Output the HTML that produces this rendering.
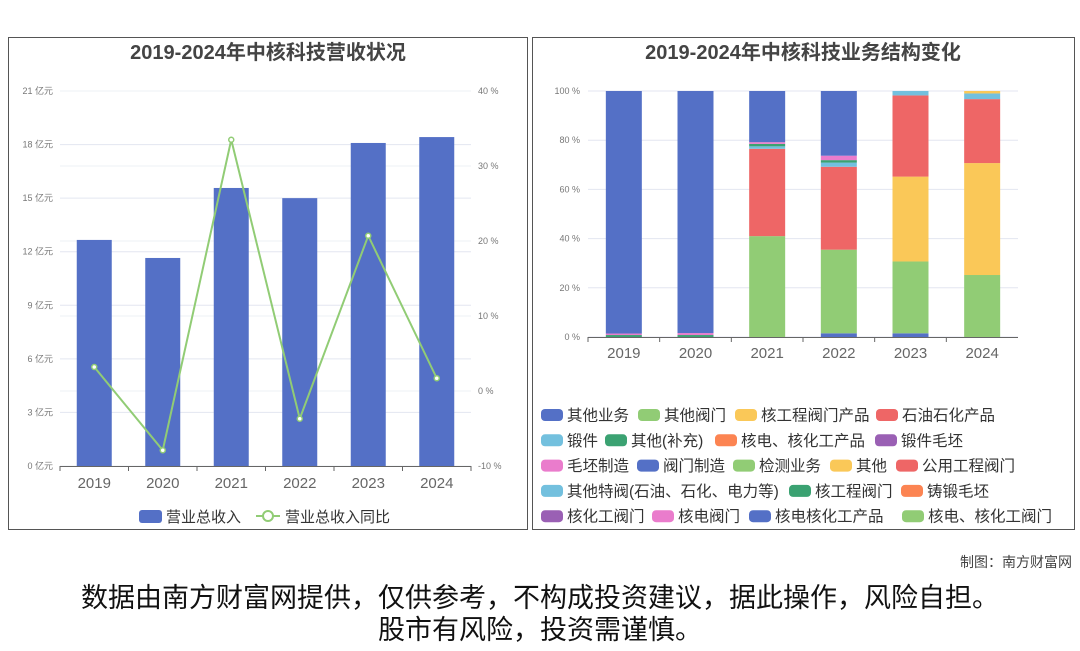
<!DOCTYPE html>
<html><head><meta charset="utf-8"><style>
body{margin:0;background:#fff;font-family:"Liberation Sans","Noto Sans CJK SC",sans-serif;}
svg text{font-family:"Liberation Sans","Noto Sans CJK SC",sans-serif;}
</style></head><body>
<svg id="s" width="1080" height="646" xmlns="http://www.w3.org/2000/svg">
<rect x="0" y="0" width="1080" height="646" fill="#fff"/>
<rect x="8.5" y="37.5" width="519" height="492" fill="none" stroke="#555"/>
<rect x="532.5" y="37.5" width="542" height="492" fill="none" stroke="#555"/>
<text x="268" y="59" text-anchor="middle" font-size="20" font-weight="bold" fill="#444">2019-2024年中核科技营收状况</text>
<text x="803" y="59" text-anchor="middle" font-size="20" font-weight="bold" fill="#444">2019-2024年中核科技业务结构变化</text>
<g id="L"></g><g id="R"></g>
<text x="1072" y="567" text-anchor="end" font-size="14" fill="#444">制图：南方财富网</text>
<text x="540" y="607" text-anchor="middle" font-size="27" fill="#111">数据由南方财富网提供，仅供参考，不构成投资建议，据此操作，风险自担。</text>
<text x="540" y="639" text-anchor="middle" font-size="27" fill="#111">股市有风险，投资需谨慎。</text>
</svg>
<script>
const years=["2019","2020","2021","2022","2023","2024"];
const revenue=[12.66,11.65,15.57,15.0,18.09,18.42];
const growth=[3.2,-7.9,33.5,-3.7,20.7,1.7];
const leftTicks=[0,3,6,9,12,15,18,21];
const rightTicks=[-10,0,10,20,30,40];
const seriesNames=["其他业务","其他阀门","核工程阀门产品","石油石化产品","锻件","其他(补充)","核电、核化工产品","锻件毛坯","毛坯制造","阀门制造","检测业务","其他","公用工程阀门","其他特阀(石油、石化、电力等)","核工程阀门","铸锻毛坯","核化工阀门","核电阀门","核电核化工产品","核电、核化工阀门"];
const seriesColors=["#5470c6","#91cc75","#fac858","#ee6666","#73c0de","#3ba272","#fc8452","#9a60b4","#ea7ccc","#5470c6","#91cc75","#fac858","#ee6666","#73c0de","#3ba272","#fc8452","#9a60b4","#ea7ccc","#5470c6","#91cc75"];
const shares=[
[0,0,0,1.5,1.5,0],
[0,0,41,34,29.2,25.2],
[0,0,0,0,34.5,45.5],
[0,0,35.5,33.7,33,26],
[0,0,1,1.7,1.8,2.3],
[0,0,1,1,0,0],
[0,0,0,0,0,0],
[0,0,0,0,0,0],
[0,0,0.7,1.8,0,0],
[0,0,20.8,26.3,0,0],
[0,0,0,0,0,0],
[0,0,0,0,0,1.0],
[0,0,0,0,0,0],
[0,0,0,0,0,0],
[0.8,0.8,0,0,0,0],
[0,0,0,0,0,0],
[0,0,0,0,0,0],
[0.6,0.8,0,0,0,0],
[98.6,98.4,0,0,0,0],
[0,0,0,0,0,0]];
const NS="http://www.w3.org/2000/svg";
function mk(p,t,a,txt){const e=document.createElementNS(NS,t);for(const k in a)e.setAttribute(k,a[k]);if(txt!==undefined)e.textContent=txt;p.appendChild(e);return e;}
const L=document.getElementById('L');
const lx0=60,lx1=471,ly0=466,ly1=91;
const yL=v=>ly0-(v/21)*(ly0-ly1);
const yR=v=>ly0-((v+10)/50)*(ly0-ly1);
const band=(lx1-lx0)/6;
const xc=i=>lx0+band*(i+0.5);
for(const t of leftTicks){const y=yL(t);
 let g=mk(L,'line',{x1:lx0,x2:lx1,y1:y,y2:y,stroke:'#e3e6f0'});
 let tx=mk(L,'text',{x:53,y:y+3,'text-anchor':'end','font-size':9,fill:'#777'},t+' 亿元');}
for(const t of rightTicks){const y=yR(t);
 let g=mk(L,'line',{x1:lx0,x2:lx1,y1:y,y2:y,stroke:'#eef0f6'});
 let tx=mk(L,'text',{x:478,y:y+3,'font-size':9,fill:'#777'},t+' %');}
revenue.forEach((v,i)=>{let r=mk(L,'rect',{x:xc(i)-17.5,y:yL(v),width:35,height:ly0-yL(v),fill:'#5470c6'});
 });
mk(L,'line',{x1:lx0,x2:lx1,y1:ly0+.5,y2:ly0+.5,stroke:'#666'});
years.forEach((y,i)=>{mk(L,'line',{x1:lx0+band*i,x2:lx0+band*i,y1:ly0,y2:ly0+5,stroke:'#666'});
 let t=mk(L,'text',{x:xc(i),y:488,'text-anchor':'middle','font-size':15,fill:'#666'},y);});
mk(L,'line',{x1:lx1,x2:lx1,y1:ly0,y2:ly0+5,stroke:'#666'});
let pl=mk(L,'polyline',{points:growth.map((v,i)=>xc(i)+','+yR(v)).join(' '),fill:'none',stroke:'#91cc75','stroke-width':2});

growth.forEach((v,i)=>{let c=mk(L,'circle',{cx:xc(i),cy:yR(v),r:2.5,fill:'#fff',stroke:'#91cc75','stroke-width':1.5});});
let lg1=mk(L,'rect',{x:139,y:510,width:23,height:13,rx:3,fill:'#5470c6'});
mk(L,'text',{x:166,y:522,'font-size':15,fill:'#333'},'营业总收入');
mk(L,'line',{x1:256,x2:280,y1:516,y2:516,stroke:'#91cc75','stroke-width':2});
mk(L,'circle',{cx:268,cy:516,r:5,fill:'#fff',stroke:'#91cc75','stroke-width':2});
mk(L,'text',{x:285,y:522,'font-size':15,fill:'#333'},'营业总收入同比');
const R=document.getElementById('R');
const rx0=588,rx1=1018,ry0=337,ry1=91;
const yP=v=>ry0-(v/100)*(ry0-ry1);
const rb=(rx1-rx0)/6;const rc=i=>rx0+rb*(i+0.5);
for(const t of [0,20,40,60,80,100]){const y=yP(t);
 mk(R,'line',{x1:rx0,x2:rx1,y1:y,y2:y,stroke:'#e3e6f0'});
 let tx=mk(R,'text',{x:580,y:y+3,'text-anchor':'end','font-size':9,fill:'#777'},t+' %');}
years.forEach((yr,i)=>{let acc=0;shares.forEach((s,k)=>{const v=s[i];if(v<=0)return;
 let r=mk(R,'rect',{x:rc(i)-18,y:yP(acc+v),width:36,height:yP(acc)-yP(acc+v),fill:seriesColors[k]});
 acc+=v;});});
mk(R,'line',{x1:rx0,x2:rx1,y1:ry0+.5,y2:ry0+.5,stroke:'#666'});
years.forEach((y,i)=>{mk(R,'line',{x1:rx0+rb*i,x2:rx0+rb*i,y1:ry0,y2:ry0+5,stroke:'#666'});
 let t=mk(R,'text',{x:rc(i),y:358,'text-anchor':'middle','font-size':15,fill:'#666'},y);});
const legX=[[541,638,735,876],[541,605,715,875],[541,637,733,830,896],[541,789,901],[541,652,749,902]];
let n=0;legX.forEach((row,ri)=>{row.forEach(x=>{const y=409+ri*25.3;
 let r=mk(R,'rect',{x:x,y:y,width:22,height:12,rx:4,fill:seriesColors[n]});
 mk(R,'text',{x:x+26,y:y+11.5,'font-size':15.5,fill:'#333'},seriesNames[n]);n++;});});
</script>
</body></html>
